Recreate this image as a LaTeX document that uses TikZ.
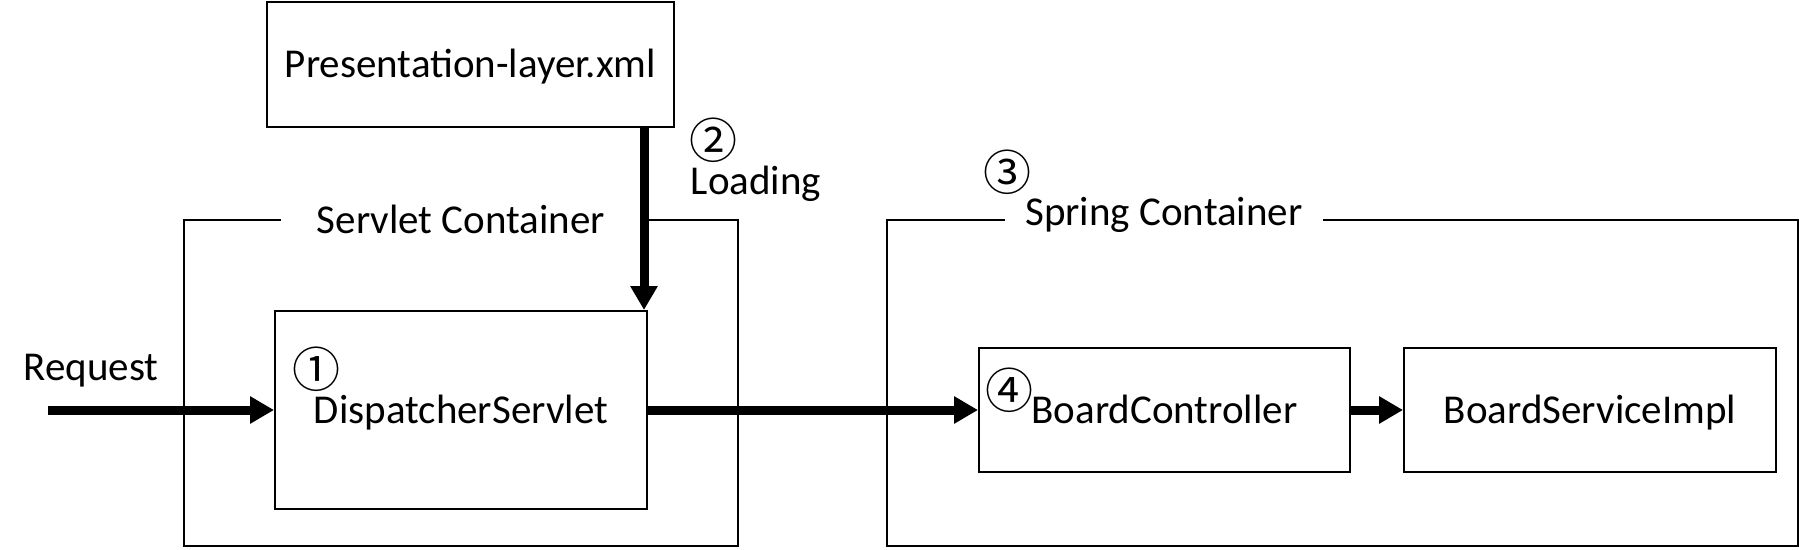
\documentclass[tikz,border=0pt]{standalone}
\usepackage{fontspec}
\setmainfont{Carlito}
\newfontfamily\circfont{Noto Sans CJK KR}
\usetikzlibrary{arrows.meta, positioning}
\tikzset{
	x=1pt, y=-1pt, % one unit is one pixel of the original, y goes down
	>={Triangle[length=24pt,width=26pt]}, % big filled arrow heads
	every node/.style={font=\fontsize{41}{49}\selectfont}, % all text at one size
	box/.style={draw, line width=2pt, inner sep=0pt, text height=26pt, text depth=0pt}, % plain boxes
	frame/.style={draw, line width=2pt}, % container outlines
	title/.style={fill=white, inner ysep=3pt, anchor=base}, % title cutting the frame line
	flow/.style={->, line width=9pt}, % thick arrows
	num/.style={font=\circfont\fontsize{48}{56}\selectfont, inner sep=0pt}, % circled step numbers
}
\begin{document}
\begin{tikzpicture}
	\useasboundingbox (0,0) rectangle (1799,549);
	% containers
	\draw[frame] (184,220) rectangle (738,546);
	\draw[frame] (887,220) rectangle (1798,546);
	\node[title, inner xsep=36pt] (servlet) at (461,233) {Servlet Container};
	\node[title, inner xsep=20pt] (spring) at (1164,225) {Spring Container};
	% boxes
	\node[box, minimum width=407pt, minimum height=125pt] (pres) at (470.5,64.5) {Presentation-layer.xml};
	\node[box, minimum width=372pt, minimum height=198pt] (disp) at (461,410) {DispatcherServlet};
	\node[box, minimum width=371pt, minimum height=124pt] (ctrl) at (1164.5,410) {BoardController};
	\node[box, minimum width=372pt, minimum height=124pt] (svc) at (1590,410) {BoardServiceImpl};
	% labels
	\node[anchor=base] (req) at (91,380) {Request};
	\node[anchor=base] (load) at (756,194) {Loading};
	\node[num] (n1) at (316,369) {①};
	\node[num] (n2) at (713,140) {②};
	\node[num] (n3) at (1007,172) {③};
	\node[num] (n4) at (1009,390) {④};
	% arrows
	\coordinate (start) at (48,410);
	\coordinate (drop) at (644,0);
	\draw[flow] (pres.south -| drop) -- (disp.north -| drop);
	\draw	(start) edge[flow] (disp)
			(disp) edge[flow] (ctrl)
			(ctrl) edge[flow] (svc);
\end{tikzpicture}
\end{document}
